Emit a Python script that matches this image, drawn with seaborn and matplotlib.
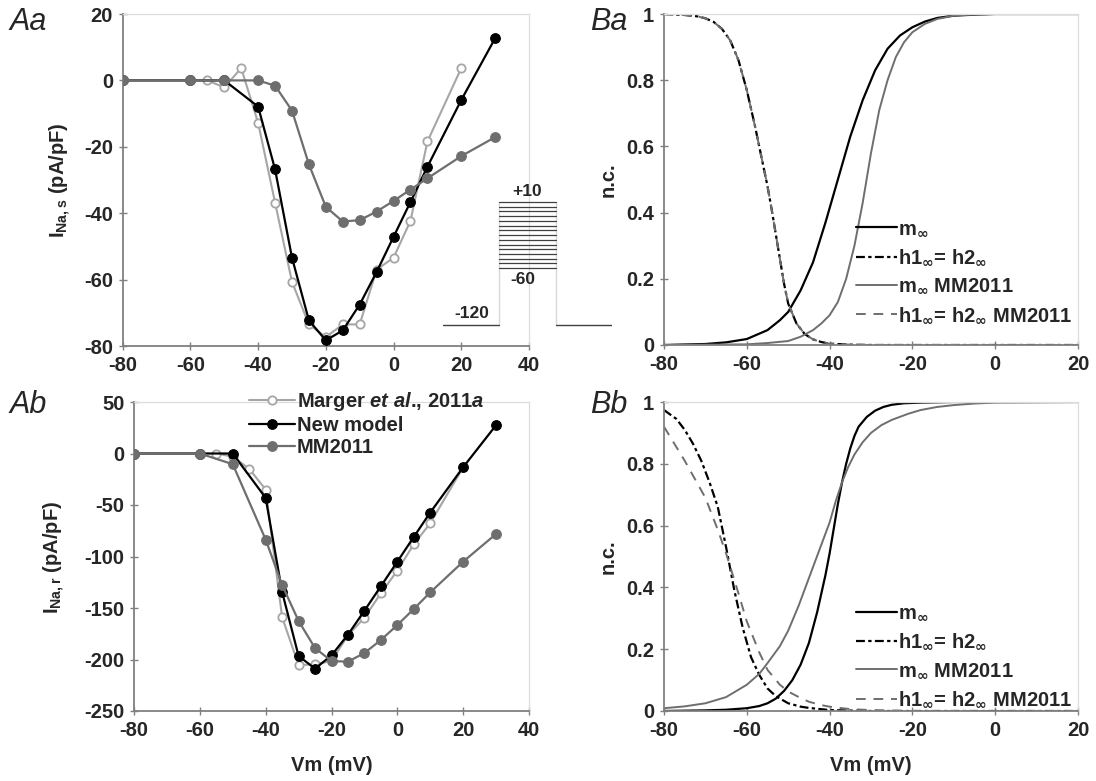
import matplotlib
matplotlib.use('Agg')
import matplotlib.pyplot as plt
import seaborn as sns
from matplotlib.ticker import FuncFormatter

# ---- data ----
# panel Aa : I_Na,s vs Vm
aa_marger_v = [-55, -50, -45, -40, -35, -30, -25, -20, -15, -10, -5, 0, 5, 10, 20]
aa_marger_i = [0, -2.1, 3.7, -12.8, -36.8, -60.7, -73.5, -77.3, -73.5, -73.5, -57.0, -53.4, -42.3, -18.4, 3.7]
aa_new_v = [-80, -60, -50, -40, -35, -30, -25, -20, -15, -10, -5, 0, 5, 10, 20, 30]
aa_new_i = [0, 0, 0, -7.9, -26.8, -53.4, -72.3, -78.3, -75.3, -67.5, -57.7, -47.1, -36.6, -26.0, -5.9, 12.7]
aa_mm_v = [-80, -60, -50, -40, -35, -30, -25, -20, -15, -10, -5, 0, 5, 10, 20, 30]
aa_mm_i = [0, 0, 0, 0, -1.6, -9.1, -25.3, -38.1, -42.5, -42.1, -39.5, -36.3, -32.9, -29.5, -22.8, -17.1]

# panel Ab : I_Na,r vs Vm
ab_marger_v = [-55, -50, -45, -40, -35, -30, -25, -20, -15, -10, -5, 0, 5, 10, 20]
ab_marger_i = [0, -3, -14.9, -35, -159, -205.4, -204.7, -201.5, -176.5, -159.4, -135.7, -113.7, -88.1, -67.7, -13.3]
ab_new_v = [-80, -60, -50, -40, -35, -30, -25, -20, -15, -10, -5, 0, 5, 10, 20, 30]
ab_new_i = [0, 0, 0, -43.1, -134.4, -196.6, -208.9, -196, -175.9, -152.6, -128.9, -105, -81, -57.3, -13.3, 27.5]
ab_mm_v = [-80, -60, -50, -40, -35, -30, -25, -20, -15, -10, -5, 0, 5, 10, 20, 30]
ab_mm_i = [0, 0, -10.4, -83.6, -127.6, -162.6, -188.9, -201.5, -202.1, -193.7, -181.1, -166.5, -151, -134.8, -105, -78.1]

# protocol inset (mV)
hold_mv = -120
step_mv = [-60, -55, -50, -45, -40, -35, -30, -25, -20, -15, -10, -5, 0, 5, 10]
prot_t = [0, 50, 100, 150]

# panel Ba : steady-state curves
ba_m_v = [-80, -70, -65, -60, -55, -52, -50, -47, -44, -41, -38, -35, -32, -29, -26, -23, -20, -17, -14, -10, -5, 0, 20]
ba_m = [0.0, 0.003, 0.008, 0.018, 0.045, 0.075, 0.1, 0.165, 0.25, 0.37, 0.5, 0.63, 0.74, 0.83, 0.895, 0.935, 0.96, 0.977, 0.988, 0.995, 0.998, 1.0, 1.0]
ba_h_v = [-80, -75, -72, -70, -68, -66, -64, -62, -60, -58, -56, -55, -54, -53, -52, -51, -50, -48, -46, -44, -42, -40, -35, -30, 20]
ba_h = [1.0, 0.997, 0.993, 0.987, 0.976, 0.955, 0.92, 0.86, 0.77, 0.66, 0.54, 0.48, 0.41, 0.335, 0.26, 0.185, 0.125, 0.065, 0.033, 0.017, 0.009, 0.004, 0.001, 0.0, 0.0]
ba_mm_m_v = [-80, -60, -55, -50, -47, -44, -42, -40, -38, -36, -34, -32, -30, -28, -26, -24, -22, -20, -17, -14, -10, -5, 0, 20]
ba_mm_m = [0.0, 0.002, 0.006, 0.012, 0.025, 0.045, 0.065, 0.09, 0.13, 0.2, 0.3, 0.43, 0.58, 0.71, 0.8, 0.87, 0.915, 0.945, 0.97, 0.985, 0.995, 0.999, 1.0, 1.0]
ba_mm_h_v = ba_h_v
ba_mm_h = ba_h

# panel Bb
bb_m_v = [-80, -70, -65, -60, -57, -55, -53, -51, -49, -47, -45, -43, -41, -40, -39, -38, -37, -36, -35, -34, -33, -31, -29, -27, -25, -22, -18, -10, 0, 20]
bb_m = [0.0, 0.002, 0.004, 0.009, 0.016, 0.025, 0.04, 0.065, 0.1, 0.15, 0.22, 0.32, 0.44, 0.51, 0.59, 0.67, 0.74, 0.8, 0.85, 0.89, 0.92, 0.952, 0.972, 0.984, 0.991, 0.996, 0.998, 1.0, 1.0, 1.0]
bb_h_v = [-80, -77, -75, -73, -71, -69, -67, -65, -63, -61, -59, -57, -55, -53, -50, -47, -45, -40, -30, 20]
bb_h = [0.974, 0.945, 0.91, 0.865, 0.81, 0.74, 0.66, 0.53, 0.39, 0.27, 0.175, 0.117, 0.073, 0.048, 0.025, 0.014, 0.01, 0.003, 0.0, 0.0]
bb_mm_m_v = [-80, -75, -70, -65, -60, -57, -55, -52, -50, -47.5, -45, -42.5, -40, -38.5, -37, -35.5, -34, -32, -30, -27.5, -25, -21, -18, -14, -10, -5, 0, 20]
bb_mm_m = [0.009, 0.015, 0.025, 0.045, 0.085, 0.12, 0.155, 0.21, 0.26, 0.34, 0.43, 0.52, 0.61, 0.68, 0.74, 0.79, 0.83, 0.87, 0.9, 0.925, 0.942, 0.962, 0.974, 0.984, 0.99, 0.995, 0.998, 1.0]
bb_mm_h_v = [-80, -75, -70, -67, -65, -62, -60, -57, -55, -52, -50, -47, -45, -42, -40, -35, -30, -20, 20]
bb_mm_h = [0.92, 0.81, 0.69, 0.586, 0.51, 0.38, 0.29, 0.19, 0.133, 0.085, 0.063, 0.042, 0.03, 0.019, 0.014, 0.006, 0.003, 0.0, 0.0]

LIGHT = '#a6a6a6'
DARK = '#6e6e6e'
W, H = 1096, 781

sns.set_style('ticks')
plt.rcParams['font.family'] = ['Liberation Sans', 'DejaVu Sans']
plt.rcParams['font.weight'] = 'bold'
plt.rcParams['mathtext.fontset'] = 'custom'
plt.rcParams['mathtext.rm'] = 'Liberation Sans:bold'
plt.rcParams['mathtext.bf'] = 'Liberation Sans:bold'
plt.rcParams['mathtext.it'] = 'Liberation Sans:bold:italic'
plt.rcParams['mathtext.sf'] = 'DejaVu Sans'

fig = plt.figure(figsize=(W / 100, H / 100), dpi=100)


def px_axes(x0, y0, x1, y1):
    return fig.add_axes([x0 / W, 1 - y1 / H, (x1 - x0) / W, (y1 - y0) / H])


def style(ax, xlim, ylim, xt, yt):
    ax.set_xlim(xlim)
    ax.set_ylim(ylim)
    ax.set_xticks(xt)
    ax.set_yticks(yt)
    fmt = FuncFormatter(lambda v, p: '%g' % v)
    ax.xaxis.set_major_formatter(fmt)
    ax.yaxis.set_major_formatter(fmt)
    for s in ['left', 'bottom']:
        ax.spines[s].set_color('#808080')
        ax.spines[s].set_linewidth(1.3)
    for s in ['top', 'right']:
        ax.spines[s].set_color('#dcdcdc')
        ax.spines[s].set_linewidth(0.9)
    ax.tick_params(direction='inout', length=6, width=1, color='#808080',
                   labelsize=14.5, pad=4)
    ax.set_xlabel('')
    ax.set_ylabel('')


def iv(ax, v, i, kind, label):
    if kind == 'marger':
        sns.lineplot(x=v, y=i, ax=ax, color=LIGHT, lw=1.5, marker='o', ms=6,
                     markerfacecolor='white', markeredgecolor=LIGHT, mew=1.3,
                     label=label, zorder=2)
    elif kind == 'new':
        sns.lineplot(x=v, y=i, ax=ax, color='black', lw=1.6, marker='o', ms=7,
                     markeredgecolor='black', label=label, zorder=3)
    else:
        sns.lineplot(x=v, y=i, ax=ax, color=DARK, lw=1.6, marker='o', ms=7,
                     markeredgecolor=DARK, label=label, zorder=4)


# ---- Aa ----
ax = px_axes(122.7, 14, 529, 346)
iv(ax, aa_marger_v, aa_marger_i, 'marger', None)
iv(ax, aa_new_v, aa_new_i, 'new', None)
iv(ax, aa_mm_v, aa_mm_i, 'mm', None)
style(ax, (-80, 40), (-80, 20), range(-80, 41, 20), range(-80, 21, 20))
if ax.get_legend():
    ax.get_legend().remove()

# ---- Ab ----
ax = px_axes(134, 402, 529, 711)
iv(ax, ab_marger_v, ab_marger_i, 'marger', r'Marger $\mathit{et\ al}$., 2011$\mathit{a}$')
iv(ax, ab_new_v, ab_new_i, 'new', 'New model')
iv(ax, ab_mm_v, ab_mm_i, 'mm', 'MM2011')
style(ax, (-80, 40), (-250, 50), range(-80, 41, 20), range(-250, 51, 50))
ax.set_xlabel('Vm (mV)', fontsize=14.5, fontweight='bold', labelpad=12)
ax.legend(loc='upper left', bbox_to_anchor=(0.265, 1.07), frameon=False,
          fontsize=14.5, handlelength=2.3, handletextpad=0.1, labelspacing=0.15,
          borderpad=0)

# ---- protocol inset ----
axp = px_axes(443, 185, 612, 330)
axp.set_axis_off()
axp.set_xlim(prot_t[0], prot_t[-1])
axp.set_ylim(-125.5, 28)
sns.lineplot(x=[prot_t[0], prot_t[1]], y=[hold_mv, hold_mv], ax=axp, color='#404040', lw=1)
sns.lineplot(x=[prot_t[2], prot_t[3]], y=[hold_mv, hold_mv], ax=axp, color='#404040', lw=1)
sns.lineplot(x=[prot_t[1], prot_t[1]], y=[hold_mv, step_mv[-1]], ax=axp, color='#404040', lw=1, sort=False)
sns.lineplot(x=[prot_t[2], prot_t[2]], y=[hold_mv, step_mv[-1]], ax=axp, color='#404040', lw=1, sort=False)
for s in step_mv:
    axp.plot([prot_t[1], prot_t[2]], [s, s], color='#404040', lw=0.9)
axp.text(26, hold_mv + 4, '-120', ha='center', va='bottom', fontsize=12.5)
axp.text(71, step_mv[0] - 4, '-60', ha='center', va='top', fontsize=12.5)
axp.text(75, step_mv[-1] + 3, '+10', ha='center', va='bottom', fontsize=12.5)

# ---- B panels ----
inf = r'_{\mathsf{\infty}}'
leg_labels = [r'm$%s$' % inf, r'h1$%s$= h2$%s$' % (inf, inf),
              r'm$%s$ MM2011' % inf, r'h1$%s$= h2$%s$ MM2011' % (inf, inf)]


def ss(ax, curves, anchor):
    (mv, m), (hv, h), (mmv, mm), (mhv, mh) = curves
    sns.lineplot(x=mv, y=m, ax=ax, color='black', lw=1.6, label=leg_labels[0])
    sns.lineplot(x=hv, y=h, ax=ax, color='black', lw=1.6,
                 linestyle=(0, (4, 1.5, 1.5, 1.5)), label=leg_labels[1])
    sns.lineplot(x=mmv, y=mm, ax=ax, color=DARK, lw=1.4, label=leg_labels[2])
    sns.lineplot(x=mhv, y=mh, ax=ax, color=DARK, lw=1.4,
                 linestyle=(0, (5, 4)), label=leg_labels[3])
    style(ax, (-80, 20), (0, 1), range(-80, 21, 20), [0, 0.2, 0.4, 0.6, 0.8, 1])
    ax.legend(loc='upper left', bbox_to_anchor=anchor, frameon=False,
              fontsize=14.5, handlelength=2.0, handletextpad=0.05, labelspacing=0.45,
              borderpad=0)


ax = px_axes(664, 14, 1078, 345)
ss(ax, [(ba_m_v, ba_m), (ba_h_v, ba_h), (ba_mm_m_v, ba_mm_m), (ba_mm_h_v, ba_mm_h)], (0.44, 0.41))

ax = px_axes(664, 402, 1078, 711)
ss(ax, [(bb_m_v, bb_m), (bb_h_v, bb_h), (bb_mm_m_v, bb_mm_m), (bb_mm_h_v, bb_mm_h)], (0.44, 0.38))
ax.set_xlabel('Vm (mV)', fontsize=14.5, fontweight='bold', labelpad=12)

# ---- y labels & panel letters ----
fig.text(60 / W, 1 - 180 / H, r'I$_{\mathregular{Na,s}}$ (pA/pF)', rotation=90,
         ha='center', va='center', fontsize=14.5)
fig.text(54 / W, 1 - 557 / H, r'I$_{\mathregular{Na,r}}$ (pA/pF)', rotation=90,
         ha='center', va='center', fontsize=14.5)
for yc in [180, 557]:
    fig.text(608 / W, 1 - yc / H, 'n.c.', rotation=90, ha='center', va='center', fontsize=14.5)

for lab, x, y in [('Aa', 10, 22), ('Ab', 10, 405), ('Ba', 590, 22), ('Bb', 590, 405)]:
    fig.text(x / W, 1 - y / H, lab, ha='left', va='center', fontsize=22,
             fontstyle='italic', fontweight='normal')

fig.savefig('out.png', dpi=100)
